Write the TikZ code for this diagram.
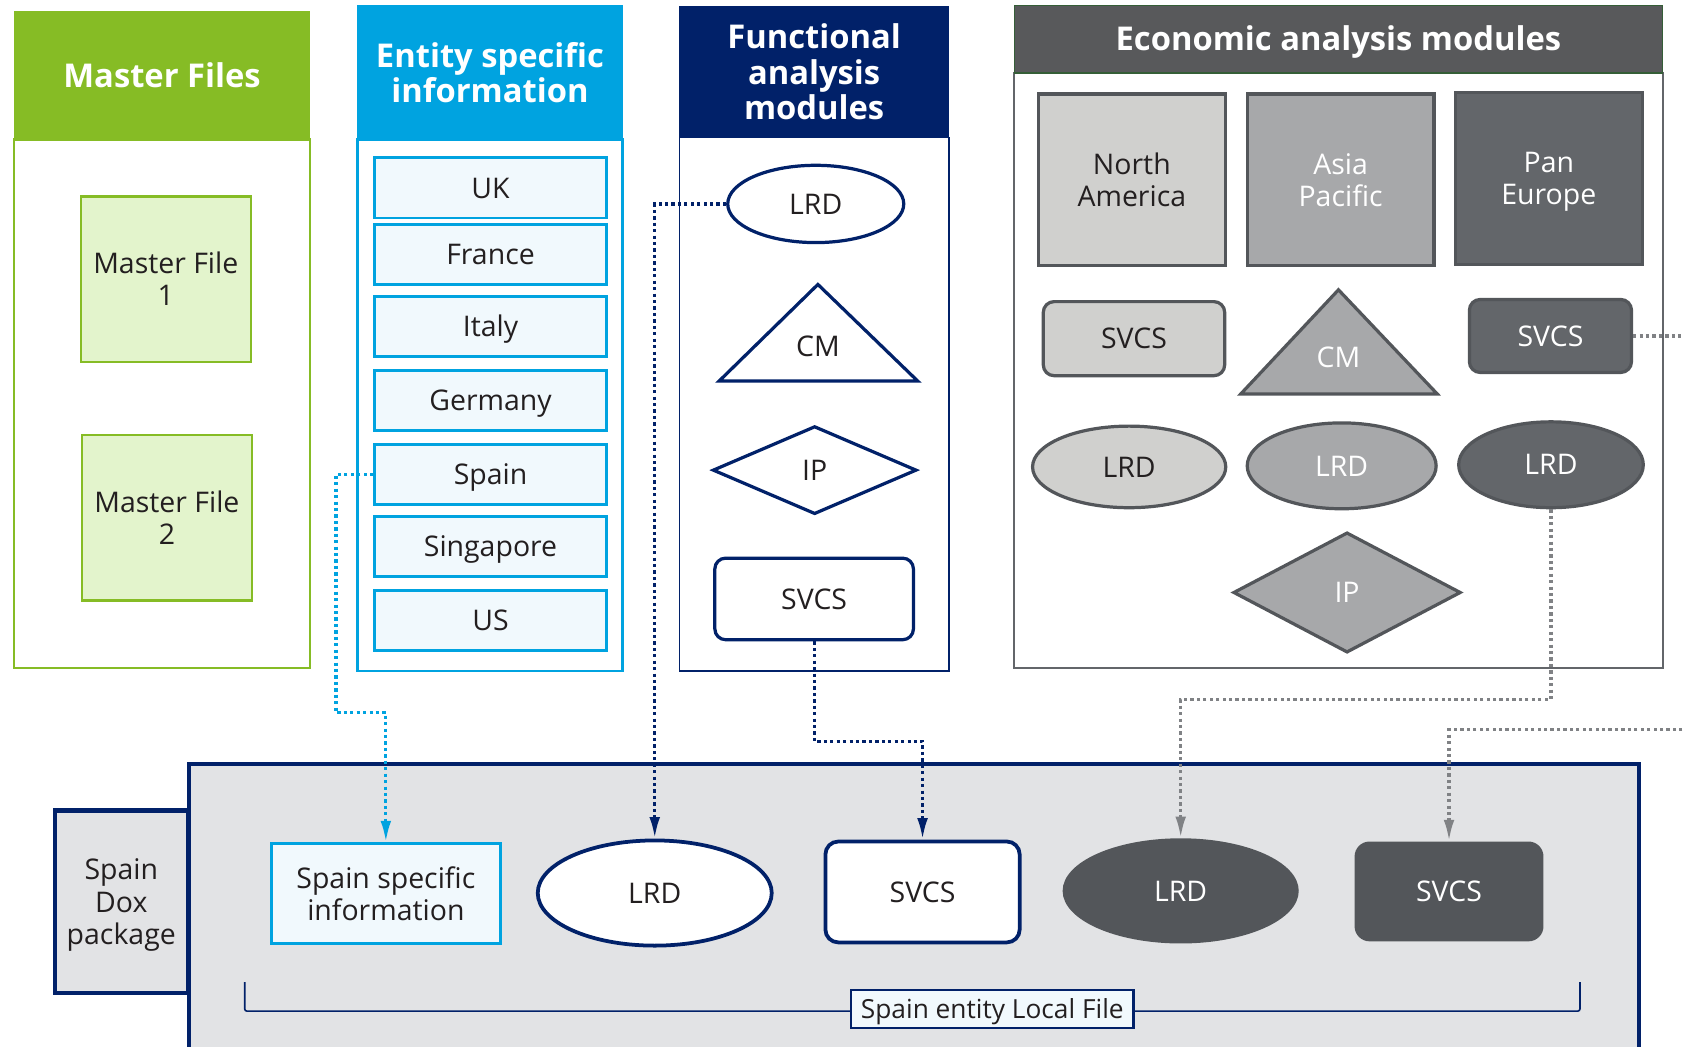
\documentclass[tikz,border=0pt]{standalone}
\usepackage{fontspec}
\setmainfont{Open Sans}
\usepackage{tikz}
\usetikzlibrary{arrows.meta}
\usetikzlibrary{shapes.geometric}

\definecolor{dgreen}{HTML}{86BC25}
\definecolor{lgreen}{HTML}{E3F4CC}
\definecolor{dblue}{HTML}{00A3E0}
\definecolor{lblue}{HTML}{F1F9FD}
\definecolor{navy}{HTML}{012169}
\definecolor{hgray}{HTML}{58595B}
\definecolor{edgegray}{HTML}{53565A}
\definecolor{lgray}{HTML}{D0D0CE}
\definecolor{mgray}{HTML}{A7A8AA}
\definecolor{dgray}{HTML}{63666A}
\definecolor{pgray}{HTML}{E2E3E5}
\definecolor{cgray}{HTML}{808285}
\definecolor{ink}{HTML}{231F20}

\begin{document}
\begin{tikzpicture}[x=1pt,y=-1pt,
  every node/.style={font=\fontsize{26.5}{30}\selectfont,text=ink,align=center,inner sep=0pt},
  head/.style={font=\bfseries\fontsize{30.5}{33}\selectfont,text=white},
  oneline/.style={text height=19pt,text depth=0pt},
  country/.style={oneline,draw=dblue,line width=2.5pt,fill=lblue,minimum width=216pt,minimum height=56pt},
  mfile/.style={draw=dgreen,line width=2pt,fill=lgreen,minimum width=158pt,minimum height=154pt},
  region/.style={draw=edgegray,line width=3pt,text depth=0pt,minimum width=174pt,minimum height=160pt},
  link/.style={line width=3pt,dash pattern=on 3pt off 3pt,-{Latex[length=20pt,width=10pt]}}]
\useasboundingbox (0,0) rectangle (1568,975);

\draw [dgreen,line width=2pt] (13,130) rectangle (289,622);
\node [head,fill=dgreen,minimum width=276pt,minimum height=120pt] (mfhead) at (151,70) {Master Files};
\node [mfile] (mf1) at (154.5,260) {Master File\\1};
\node [mfile] (mf2) at (155.5,482.5) {Master File\\2};

\draw [dblue,line width=2pt] (333,130) rectangle (580,625);
\node [head,fill=dblue,minimum width=247pt,minimum height=125pt] (eshead) at (456.5,67.5) {Entity specific\\information};
\node [country] (uk) at (457,175) {UK};
\node [country] (france) at (457,237) {France};
\node [country] (italy) at (457,304) {Italy};
\node [country] (germany) at (457,373) {Germany};
\node [country] (spain) at (457,442) {Spain};
\node [country] (singapore) at (457,509) {Singapore};
\node [country] (us) at (457,578) {US};

\draw [navy,line width=1.5pt] (633,128) rectangle (884,625);
\node [head,fill=navy,minimum width=251pt,minimum height=122pt] (fahead) at (758.5,67) {Functional\\analysis\\modules};
\node [oneline,ellipse,draw=navy,line width=3pt,fill=white,minimum width=164pt,minimum height=72pt] (flrd) at (760,190) {LRD};
\draw [navy,line width=3pt,fill=white] (670,355) -- (762,265) -- (855,355) -- cycle;
\node [oneline] (fcm) at (762,323) {CM};
\node [oneline,diamond,draw=navy,line width=3pt,fill=white,minimum width=190pt,minimum height=82pt] (fip) at (759,438) {IP};
\node [oneline,draw=navy,line width=3pt,fill=white,rounded corners=10pt,minimum width=185pt,minimum height=76pt] (fsvcs) at (758.5,558) {SVCS};

\draw [dgray,line width=2pt] (945,68) rectangle (1549,622);
\node [head,fill=hgray,draw=black!60!green!40!hgray,line width=1.5pt,text height=21pt,text depth=0pt,minimum width=604pt,minimum height=63pt] (eahead) at (1247,36.5) {Economic analysis modules};
\node [region,fill=lgray] (na) at (1054.5,167.5) {North\\America};
\node [region,fill=mgray,text=white] (ap) at (1249,167.5) {Asia\\Pacific};
\node [region,fill=dgray,text=white] (pe) at (1443,166.5) {Pan\\Europe};
\node [oneline,draw=edgegray,line width=3pt,fill=lgray,rounded corners=10pt,minimum width=169pt,minimum height=69pt] (esvcsa) at (1056.5,315.5) {SVCS};
\draw [edgegray,line width=3pt,fill=mgray] (1156,367) -- (1247,270) -- (1339,367) -- cycle;
\node [oneline,text=white] (ecm) at (1247,333) {CM};
\node [oneline,draw=edgegray,line width=3pt,fill=dgray,text=white,rounded corners=10pt,minimum width=151pt,minimum height=68pt] (esvcsc) at (1444.5,313) {SVCS};
\node [oneline,ellipse,draw=edgegray,line width=3pt,fill=lgray,minimum width=180pt,minimum height=76pt] (elrda) at (1052,435) {LRD};
\node [oneline,ellipse,draw=edgegray,line width=3pt,fill=mgray,text=white,minimum width=176pt,minimum height=80pt] (elrdb) at (1250,434) {LRD};
\node [oneline,ellipse,draw=edgegray,line width=3pt,fill=dgray,text=white,minimum width=172pt,minimum height=80pt] (elrdc) at (1445,433) {LRD};
\node [oneline,diamond,draw=edgegray,line width=3pt,fill=mgray,text=white,minimum width=212pt,minimum height=112pt] (eip) at (1255,552) {IP};

\draw [navy,line width=4pt,fill=pgray] (176,712) rectangle (1527,995);
\node [draw=navy,line width=4pt,fill=pgray,text depth=0pt,minimum width=124pt,minimum height=170pt] (dox) at (113,840) {Spain\\Dox\\package};
\node [draw=dblue,line width=2.5pt,fill=lblue,minimum width=213pt,minimum height=93pt] (sinfo) at (359.5,832.5) {Spain specific\\information};
\node [oneline,ellipse,draw=navy,line width=3.5pt,fill=white,minimum width=218pt,minimum height=98pt] (blrd) at (610,832) {LRD};
\node [oneline,draw=navy,line width=3.5pt,fill=white,rounded corners=12pt,minimum width=181pt,minimum height=94pt] (bsvcs) at (859.5,831) {SVCS};
\node [oneline,ellipse,fill=edgegray,text=white,minimum width=220pt,minimum height=98pt] (blrdd) at (1100,830) {LRD};
\node [oneline,fill=edgegray,text=white,rounded corners=14pt,minimum width=176pt,minimum height=93pt] (bsvcsd) at (1350,830.5) {SVCS};
\draw [navy,line width=1.5pt,rounded corners=2pt] (228,915) -- (228,942) -- (1472,942) -- (1472,915);
\node [draw=navy,line width=2pt,fill=lblue,font=\fontsize{24.5}{28}\selectfont,text height=17.5pt,text depth=0pt,minimum width=263pt,minimum height=36pt] (localfile) at (924.5,940) {Spain entity Local File};

\draw [link,dblue] (spain.west) -- (313,442) -- (313,664) -| (sinfo.north);
\draw [link,navy] (flrd.west) -| (blrd.north);
\draw [link,navy] (fsvcs.south) -- ++(0,93) -| (bsvcs.north);
\draw [link,cgray] (elrdc.south) -- ++(0,177) -| (blrdd.north);
\draw [link,cgray] (esvcsc.east) -- (1700,313) -- (1700,680) -| (bsvcsd.north);
\end{tikzpicture}
\end{document}
